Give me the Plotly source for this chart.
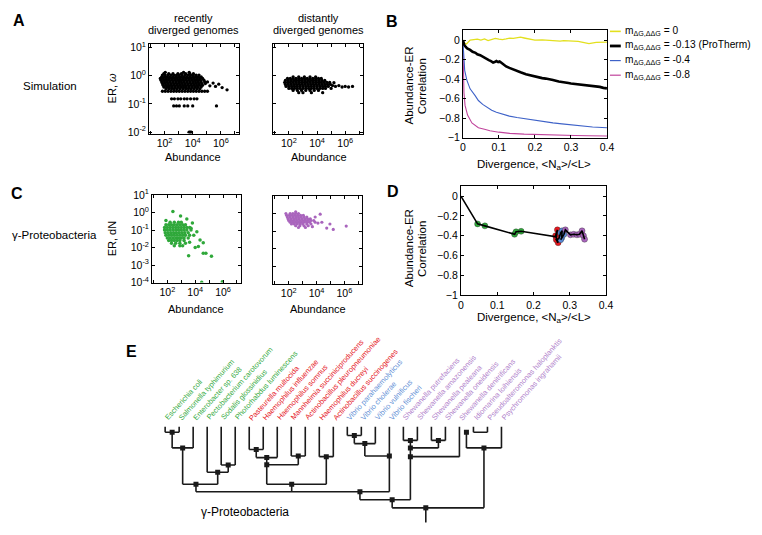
import numpy as np
import plotly.graph_objects as go

W, H = 762, 535
FONT = "Liberation Sans, Arial, sans-serif"

# ---------------- DATA ----------------
# Panel A (simulation), recently diverged: log10(ER) rows and the log10(abundance) of points on each row
a_recent_rowy = [0.12, 0.07, 0.02, -0.04, -0.10, -0.16, -0.22, -0.28, -0.34, -0.40, -0.46, -0.55, -0.82, -1.07]
a_recent_rowx = [
    [2.05, 3.35, 3.75],
    [1.95, 2.3, 2.6, 2.95, 3.2, 3.5, 3.8, 4.05],
    [1.85, 2.05, 2.25, 2.45, 2.65, 2.85, 3.05, 3.25, 3.45, 3.65, 3.85, 4.05, 4.25, 4.45],
    [1.8, 2.0, 2.2, 2.4, 2.6, 2.8, 3.0, 3.2, 3.4, 3.6, 3.8, 4.0, 4.2, 4.4, 4.6],
    [1.7, 1.9, 2.1, 2.3, 2.5, 2.7, 2.9, 3.1, 3.3, 3.5, 3.7, 3.9, 4.1, 4.3, 4.5, 4.7],
    [1.75, 1.95, 2.15, 2.35, 2.55, 2.75, 2.95, 3.15, 3.35, 3.55, 3.75, 3.95, 4.15, 4.35, 4.55, 4.8],
    [1.8, 2.0, 2.2, 2.4, 2.6, 2.8, 3.0, 3.2, 3.4, 3.6, 3.8, 4.0, 4.2, 4.4, 4.6, 4.85, 5.05],
    [1.85, 2.05, 2.25, 2.45, 2.65, 2.85, 3.05, 3.25, 3.45, 3.65, 3.85, 4.05, 4.25, 4.45, 4.65, 4.9],
    [1.9, 2.1, 2.3, 2.5, 2.7, 2.9, 3.1, 3.3, 3.5, 3.7, 3.9, 4.1, 4.3, 4.5, 4.7],
    [1.95, 2.15, 2.35, 2.55, 2.75, 2.95, 3.15, 3.35, 3.55, 3.75, 3.95, 4.15, 4.35, 4.6],
    [2.1, 2.3, 2.5, 2.7, 2.9, 3.1, 3.3, 3.5, 3.7, 3.9, 4.1, 4.3, 4.5],
    [1.85, 2.05, 2.25, 2.45, 2.65, 2.85, 3.05, 3.25, 3.45, 3.65, 3.85, 4.05, 4.25, 4.45, 4.65, 4.85, 5.05],
    [2.5, 2.7, 2.95, 3.15, 3.4, 3.6, 3.85, 4.1, 4.3],
    [2.65, 2.85, 3.05, 3.4, 3.65, 4.0, 5.69],
]
a_recent_extra_x = [5.22, 5.45, 5.62, 5.85, 6.09, 6.44, 3.74, 3.82, 3.9]
a_recent_extra_y = [-0.36, -0.26, -0.38, -0.30, -0.42, -0.50, -2.0, -2.0, -2.0]

# Panel A, distantly diverged
a_distant_rowy = [-0.04, -0.10, -0.17, -0.24, -0.31, -0.38, -0.45, -0.52, -0.60]
a_distant_rowx = [
    [2.3, 2.7, 3.1, 3.5, 3.9],
    [1.9, 2.1, 2.3, 2.5, 2.7, 2.9, 3.1, 3.3, 3.5, 3.7, 3.9, 4.1, 4.3],
    [1.75, 1.95, 2.15, 2.35, 2.55, 2.75, 2.95, 3.15, 3.35, 3.55, 3.75, 3.95, 4.15, 4.35, 4.55],
    [1.7, 1.9, 2.1, 2.3, 2.5, 2.7, 2.9, 3.1, 3.3, 3.5, 3.7, 3.9, 4.1, 4.3, 4.5, 4.7, 4.9],
    [1.75, 1.95, 2.15, 2.35, 2.55, 2.75, 2.95, 3.15, 3.35, 3.55, 3.75, 3.95, 4.15, 4.35, 4.55, 4.75, 4.95],
    [1.8, 2.0, 2.2, 2.4, 2.6, 2.8, 3.0, 3.2, 3.4, 3.6, 3.8, 4.0, 4.2, 4.4, 4.6, 4.8],
    [2.0, 2.2, 2.4, 2.6, 2.8, 3.0, 3.2, 3.4, 3.6, 3.8, 4.0, 4.2, 4.4, 4.6],
    [2.3, 2.6, 2.9, 3.2, 3.5, 3.8, 4.1],
    [2.7, 3.0, 3.6, 4.4],
]
a_distant_extra_x = [5.1, 5.31, 5.55, 5.78, 6.0, 6.24, 6.52, 5.2, 5.0]
a_distant_extra_y = [-0.35, -0.38, -0.35, -0.40, -0.38, -0.40, -0.38, -0.25, -0.45]

# Panel B: abundance-ER correlation vs divergence
b_yellow_x = [0, 0.004, 0.01, 0.02, 0.03, 0.04, 0.05, 0.06, 0.07, 0.08, 0.09, 0.1, 0.11, 0.12, 0.13, 0.14, 0.15,
              0.16, 0.17, 0.18, 0.19, 0.2, 0.22, 0.24, 0.26, 0.27, 0.28, 0.3, 0.32, 0.33, 0.35, 0.37, 0.38, 0.4]
b_yellow_y = [0, -0.03, -0.04, 0.0, 0.005, 0.01, 0.0, 0.012, -0.005, 0.008, 0.018, 0.01, 0.005, 0.012, 0.02, 0.018, 0.025,
              0.03, 0.022, 0.015, 0.01, 0.0, 0.002, -0.002, -0.008, -0.01, -0.004, -0.005, -0.012, -0.02, -0.035, -0.022, -0.02, -0.02]
b_black_x = [0, 0.002, 0.004, 0.008, 0.012, 0.02, 0.027, 0.035, 0.04, 0.048, 0.055, 0.06, 0.066, 0.072, 0.078, 0.084, 0.088,
             0.093, 0.098, 0.102, 0.106, 0.111, 0.12, 0.129, 0.138, 0.148, 0.16, 0.175, 0.19, 0.202, 0.21, 0.22, 0.23, 0.239,
             0.25, 0.266, 0.28, 0.293, 0.3, 0.312, 0.325, 0.339, 0.35, 0.366, 0.38, 0.39, 0.4]
b_black_y = [0, -0.03, -0.05, -0.07, -0.085, -0.1, -0.12, -0.13, -0.145, -0.155, -0.17, -0.18, -0.2, -0.205, -0.215, -0.23, -0.225,
             -0.215, -0.225, -0.22, -0.23, -0.245, -0.27, -0.285, -0.3, -0.315, -0.33, -0.35, -0.365, -0.375, -0.38, -0.39, -0.395, -0.405,
             -0.41, -0.425, -0.43, -0.44, -0.445, -0.45, -0.455, -0.465, -0.47, -0.475, -0.48, -0.49, -0.495]
b_blue_x = [0, 0.001, 0.002, 0.005, 0.011, 0.02, 0.034, 0.043, 0.055, 0.066, 0.08, 0.093, 0.11, 0.129, 0.15, 0.175, 0.2, 0.22,
            0.25, 0.275, 0.3, 0.33, 0.36, 0.4]
b_blue_y = [0, -0.1, -0.175, -0.31, -0.41, -0.5, -0.57, -0.62, -0.66, -0.69, -0.72, -0.74, -0.76, -0.78, -0.795, -0.81, -0.825, -0.835,
            -0.85, -0.86, -0.87, -0.885, -0.892, -0.9]
b_mag_x = [0, 0.0005, 0.001, 0.003, 0.006, 0.013, 0.025, 0.043, 0.06, 0.075, 0.1, 0.13, 0.17, 0.22, 0.27, 0.31, 0.35, 0.4]
b_mag_y = [0, -0.2, -0.34, -0.54, -0.67, -0.77, -0.85, -0.9, -0.915, -0.93, -0.945, -0.957, -0.965, -0.972, -0.977, -0.98, -0.982, -0.985]
b_labels = ["m<sub>ΔG,ΔΔG</sub> = 0", "m<sub>ΔG,ΔΔG</sub> = -0.13 (ProTherm)",
            "m<sub>ΔG,ΔΔG</sub> = -0.4", "m<sub>ΔG,ΔΔG</sub> = -0.8"]

# Panel C (gamma-proteobacteria): green (recent) cloud rows
c_green_rowy = [-0.55, -0.7, -0.85, -1.0, -1.15, -1.3, -1.45, -1.6, -1.75, -1.9]
c_green_rowx = [
    [2.2, 2.5, 2.8, 3.0],
    [1.9, 2.1, 2.3, 2.5, 2.7, 2.9, 3.1, 3.3],
    [1.8, 2.0, 2.2, 2.4, 2.6, 2.8, 3.0, 3.2, 3.4, 3.6],
    [1.8, 2.0, 2.2, 2.4, 2.6, 2.8, 3.0, 3.2, 3.4, 3.7],
    [1.85, 2.05, 2.25, 2.45, 2.65, 2.85, 3.05, 3.25, 3.5],
    [1.9, 2.1, 2.3, 2.5, 2.7, 2.9, 3.1, 3.3, 3.6],
    [2.0, 2.2, 2.4, 2.6, 2.8, 3.0, 3.2, 3.5],
    [2.1, 2.3, 2.5, 2.7, 2.9, 3.2],
    [2.3, 2.6, 2.9, 3.3],
    [2.5, 2.9],
]
c_green_extra_x = [2.4, 2.95, 3.4, 3.8, 3.7, 4.12, 3.9, 4.35, 4.58, 4.23, 3.53, 4.58, 4.77, 5.17, 4.47, 5.95, 1.9, 3.6, 4.0, 3.1]
c_green_extra_y = [0.06, -0.2, -0.37, -0.6, -0.9, -1.1, -1.3, -1.57, -1.72, -1.94, -2.46, -2.33, -2.33, -2.5, -3.98, -3.95, -0.45, -1.7, -2.0, -1.9]

# Panel C: purple (distant) cloud rows
c_purple_rowy = [0.1, 0.0, -0.1, -0.2, -0.3, -0.4, -0.5, -0.6, -0.7, -0.8]
c_purple_rowx = [
    [2.5],
    [1.8, 2.1, 2.3, 2.5, 2.7],
    [1.85, 2.05, 2.25, 2.45, 2.65, 2.85, 3.05],
    [1.9, 2.1, 2.3, 2.5, 2.7, 2.9, 3.1, 3.3],
    [1.95, 2.15, 2.35, 2.55, 2.75, 2.95, 3.15, 3.35, 3.55],
    [2.0, 2.2, 2.4, 2.6, 2.8, 3.0, 3.2, 3.4, 3.6, 3.8],
    [2.1, 2.3, 2.5, 2.7, 2.9, 3.1, 3.3, 3.5, 3.9],
    [2.2, 2.4, 2.6, 2.8, 3.0, 3.3, 3.6],
    [2.5, 2.8, 3.1, 3.4],
    [2.7, 3.2],
]
c_purple_extra_x = [4.26, 4.38, 4.73, 4.96, 5.2, 6.13, 3.9, 4.1, 3.7]
c_purple_extra_y = [-0.04, -0.5, -0.83, -0.6, -0.91, -0.72, -0.2, -0.55, -0.75]

# Panel D: correlation along the tree
d_x = [0, 0.046, 0.066, 0.148, 0.152, 0.166, 0.263, 0.266, 0.261, 0.268, 0.263, 0.27,
       0.275, 0.279, 0.278, 0.275, 0.284, 0.288, 0.302, 0.311, 0.32, 0.327, 0.334, 0.338, 0.341]
d_y = [0, -0.28, -0.30, -0.385, -0.36, -0.355, -0.41, -0.34, -0.40, -0.47, -0.44, -0.43,
       -0.37, -0.35, -0.42, -0.44, -0.385, -0.34, -0.39, -0.385, -0.39, -0.385, -0.35, -0.40, -0.435]
d_group = ['', 'g', 'g', 'g', 'g', 'g', 'r', 'r', 'r', 'r', 'r', 'r',
           'b', 'b', 'b', 'b', 'b', 'p', 'p', 'p', 'p', 'p', 'p', 'p', 'p']

# Panel E: tree
leaf_names = ["Escherichia coli", "Salmonella typhimurium", "Enterobacter sp. 638", "Pectobacterium carotovorum",
              "Sodalis glossinidius", "Photorhabdus luminescens",
              "Pasteurella multocida", "Haemophilus influenzae", "Haemophilus somnus", "Mannheimia succiniciproducens",
              "Actinobacillus pleuropneumoniae", "Haemophilus ducreyi", "Actinobacillus succinogenes",
              "Vibrio parahaemolyticus", "Vibrio cholerae", "Vibrio vulnificus", "Vibrio fischeri",
              "Shewanella putrefaciens", "Shewanella amazonensis", "Shewanella pealeana", "Shewanella oneidensis",
              "Shewanella denitrificans", "Idiomarina loihiensis", "Pseudoalteromonas haloplanktis", "Psychromonas ingrahamii"]
leaf_group = ['g'] * 6 + ['r'] * 7 + ['b'] * 4 + ['p'] * 8
node_names = ['N1', 'N2', 'N3', 'N4', 'N5', 'N6', 'N7', 'N8', 'N9', 'N10', 'N11', 'B1', 'B2', 'B3',
              'S1', 'S2', 'S3', 'S4', 'P1', 'P2', 'GRB', 'GRBS', 'ROOT']
node_children = [[0, 1], ['N1', 2], [4, 5], [3, 'N3'], ['N2', 'N4'], [6, 7], ['N6', 8], [9, 10], [11, 12],
                 ['N7', 'N8'], ['N10', 'N9'], [13, 14], ['B1', 15], ['B2', 16],
                 [17, 18], [19, 20], ['S1', 'S2'], ['S3', 21], [22, 23], ['P1', 24],
                 ['N5', 'N11', 'B3'], ['GRB', 'S4'], ['GRBS', 'P2']]
node_pos = [0.5, 1.25, 4.5, 3.75, 2.2, 6.5, 7.25, 9.5, 11.5, 7.25, 9.03, 13.5, 14.25, 16,
            17.5, 19.5, 17.5, 17.5, 21.5, 22.75, 13.9, 16.2, 18.6]
node_depth = [5.7, 21.7, 39.3, 46.7, 59, 23.3, 31.7, 30, 30.7, 39, 59, 9, 17.3, 30,
              14, 14, 21.7, 30.7, 5.7, 21.7, 66.7, 75, 83.3]
root_stem_depth = 98.3

COL = {'g': '#2fa83a', 'r': '#e8191f', 'b': '#5a8ad4', 'p': '#a965bd'}
LEAF_COL = {'g': '#34aa3e', 'r': '#e5141c', 'b': '#5f90d6', 'p': '#b07fcb'}

# ---------------- helpers ----------------
def px(x):
    return x / W

def py(y):
    return 1 - y / H

def dx(a, b):
    return [a / W, b / W]

def dy(top, bot):
    return [1 - bot / H, 1 - top / H]

def rows_to_xy(rowy, rowx):
    xs, ys = [], []
    for yv, xl in zip(rowy, rowx):
        for xv in xl:
            xs.append(xv)
            ys.append(yv)
    return xs, ys

def frame(**kw):
    d = dict(showline=True, linecolor='black', linewidth=1, mirror='ticks', ticks='inside', ticklen=3,
             tickcolor='black', tickwidth=1, showgrid=False, zeroline=False,
             tickfont=dict(size=10.5, color='black', family=FONT))
    d.update(kw)
    return d

sup = lambda n: "10<sup>%d</sup>" % n

fig = go.Figure()

# ---- Panel A ----
ax_, ay_ = rows_to_xy(a_recent_rowy, a_recent_rowx)
ax_ += a_recent_extra_x
ay_ += a_recent_extra_y
fig.add_trace(go.Scatter(x=10 ** np.array(ax_), y=10 ** np.array(ay_), mode='markers',
                         marker=dict(color='black', size=3.3, line=dict(width=0)), xaxis='x', yaxis='y'))
bx_, by_ = rows_to_xy(a_distant_rowy, a_distant_rowx)
bx_ += a_distant_extra_x
by_ += a_distant_extra_y
fig.add_trace(go.Scatter(x=10 ** np.array(bx_), y=10 ** np.array(by_), mode='markers',
                         marker=dict(color='black', size=3.3, line=dict(width=0)), xaxis='x2', yaxis='y2'))

# ---- Panel B ----
fig.add_trace(go.Scatter(x=b_yellow_x, y=b_yellow_y, mode='lines', line=dict(color='#e3e01e', width=1.3),
                         xaxis='x3', yaxis='y3'))
fig.add_trace(go.Scatter(x=b_mag_x, y=b_mag_y, mode='lines', line=dict(color='#c0449c', width=1.1),
                         xaxis='x3', yaxis='y3'))
fig.add_trace(go.Scatter(x=b_blue_x, y=b_blue_y, mode='lines', line=dict(color='#3e62c8', width=1.1),
                         xaxis='x3', yaxis='y3'))
fig.add_trace(go.Scatter(x=b_black_x, y=b_black_y, mode='lines', line=dict(color='black', width=2.6),
                         xaxis='x3', yaxis='y3'))

# ---- Panel C ----
gx, gy = rows_to_xy(c_green_rowy, c_green_rowx)
gx += c_green_extra_x
gy += c_green_extra_y
fig.add_trace(go.Scatter(x=10 ** np.array(gx), y=10 ** np.array(gy), mode='markers',
                         marker=dict(color=COL['g'], size=3.5, line=dict(width=0)), xaxis='x4', yaxis='y4'))
qx, qy = rows_to_xy(c_purple_rowy, c_purple_rowx)
qx += c_purple_extra_x
qy += c_purple_extra_y
fig.add_trace(go.Scatter(x=10 ** np.array(qx), y=10 ** np.array(qy), mode='markers',
                         marker=dict(color=COL['p'], size=3.2, line=dict(width=0)), xaxis='x5', yaxis='y5'))

# ---- Panel D ----
mask = [g != '' for g in d_group]
fig.add_trace(go.Scatter(x=[x for x, m in zip(d_x, mask) if m], y=[y for y, m in zip(d_y, mask) if m],
                         mode='markers',
                         marker=dict(color=[COL[g] for g in d_group if g], size=6,
                                     line=dict(color='rgba(40,40,40,0.5)', width=0.7)),
                         xaxis='x6', yaxis='y6'))
fig.add_trace(go.Scatter(x=d_x, y=d_y, mode='lines', line=dict(color='black', width=1.6),
                         xaxis='x6', yaxis='y6'))

# ---- Panel E: tree ----
pos = {i: float(i) for i in range(len(leaf_names))}
dep = {i: 0.0 for i in range(len(leaf_names))}
for n, xv, dv in zip(node_names, node_pos, node_depth):
    pos[n] = xv
    dep[n] = dv
lx, ly = [], []
for n, ch in zip(node_names, node_children):
    cx = [pos[c] for c in ch]
    lx += [min(cx), max(cx), None]
    ly += [dep[n], dep[n], None]
    for c in ch:
        lx += [pos[c], pos[c], None]
        ly += [dep[c], dep[n], None]
lx += [pos['ROOT'], pos['ROOT'], None]
ly += [dep['ROOT'], root_stem_depth, None]
fig.add_trace(go.Scatter(x=lx, y=ly, mode='lines', line=dict(color='#1a1a1a', width=1.6),
                         xaxis='x7', yaxis='y7'))
fig.add_trace(go.Scatter(x=node_pos, y=node_depth, mode='markers',
                         marker=dict(symbol='square', color='#1a1a1a', size=5), xaxis='x7', yaxis='y7'))

# ---------------- axes ----------------
xt_vals = [10 ** k for k in range(1, 8)]
xt_text = ['', sup(2), '', sup(4), '', sup(6), '']
logx = dict(type='log', range=[0.9, 7.28], tickvals=xt_vals, ticktext=xt_text)
ya_vals = [10 ** k for k in range(-2, 2)]
ya_text = [sup(k) for k in range(-2, 2)]
yc_vals = [10 ** k for k in range(-4, 2)]
yc_text = [sup(k) for k in range(-4, 2)]
lin_x = dict(range=[0, 0.4], tickvals=[0, 0.1, 0.2, 0.3, 0.4], ticktext=['0', '0.1', '0.2', '0.3', '0.4'])
lin_y = dict(range=[-1, 0.1], tickvals=[0, -0.2, -0.4, -0.6, -0.8, -1],
             ticktext=['0', '−0.2', '−0.4', '−0.6', '−0.8', '−1'])

layout = dict(
    width=W, height=H, margin=dict(l=0, r=0, t=0, b=0), paper_bgcolor='white', plot_bgcolor='white',
    showlegend=False, font=dict(family=FONT, color='black'), hovermode=False,
    xaxis=frame(domain=dx(148, 239), anchor='y', **logx),
    yaxis=frame(domain=dy(37, 129), anchor='x', type='log', range=[-2.05, 1.12], tickvals=ya_vals, ticktext=ya_text),
    xaxis2=frame(domain=dx(274, 365), anchor='y2', **logx),
    yaxis2=frame(domain=dy(37, 129), anchor='x2', type='log', range=[-2.05, 1.12], tickvals=ya_vals,
                 ticktext=ya_text, showticklabels=False),
    xaxis3=frame(domain=dx(466, 612), anchor='y3', **lin_x),
    yaxis3=frame(domain=dy(23, 133), anchor='x3', **lin_y),
    xaxis4=frame(domain=dx(151, 241), anchor='y4', **logx),
    yaxis4=frame(domain=dy(192, 282), anchor='x4', type='log', range=[-4, 1], tickvals=yc_vals, ticktext=yc_text),
    xaxis5=frame(domain=dx(274, 364), anchor='y5', **logx),
    yaxis5=frame(domain=dy(193, 283), anchor='x5', type='log', range=[-4, 1], tickvals=yc_vals,
                 ticktext=yc_text, showticklabels=False),
    xaxis6=frame(domain=dx(464, 611), anchor='y6', **lin_x),
    yaxis6=frame(domain=dy(183, 295), anchor='x6', **lin_y),
    xaxis7=dict(domain=dx(164.3 - 2 * 14.2, 164.3 + 30 * 14.2), range=[-2, 30], visible=False, anchor='y7'),
    yaxis7=dict(domain=dy(420, 535), range=[105, -10], visible=False, anchor='x7'),
)
fig.update_layout(**layout)

# ---------------- text ----------------
ann = []

def T(x, y, text, size=11, xa='center', ya='middle', angle=0, color='black', bold=False):
    if bold:
        text = '<b>' + text + '</b>'
    ann.append(dict(x=px(x), y=py(y), xref='paper', yref='paper', text=text, showarrow=False,
                    xanchor=xa, yanchor=ya, textangle=angle, font=dict(size=size, color=color, family=FONT)))

T(16, 13, 'A', 16, bold=True)
T(394, 14, 'B', 16, bold=True)
T(14, 190, 'C', 16, bold=True)
T(395, 188, 'D', 16, bold=True)
T(130, 353, 'E', 16, bold=True)

T(193, 10, 'recently', 11)
T(193, 23, 'diverged genomes', 11)
T(320, 10, 'distantly', 11)
T(320, 23, 'diverged genomes', 11)
T(48, 80, 'Simulation', 11.5)
T(52, 233, 'γ-Proteobacteria', 11.5)
T(110, 83, 'ER, <i>ω</i>', 11, angle=-90)
T(110, 237, 'ER, dN', 11, angle=-90)
T(193, 153, 'Abundance', 11)
T(320, 153, 'Abundance', 11)
T(196, 309, 'Abundance', 11)
T(319, 309, 'Abundance', 11)
T(411, 80, 'Abundance-ER', 11.5, angle=-90)
T(424, 80, 'Correlation', 11.5, angle=-90)
T(411, 247, 'Abundance-ER', 11.5, angle=-90)
T(424, 247, 'Correlation', 11.5, angle=-90)
T(538, 161, 'Divergence, &lt;N<sub>a</sub>&gt;/&lt;L&gt;', 11.5)
T(538, 318, 'Divergence, &lt;N<sub>a</sub>&gt;/&lt;L&gt;', 11.5)
T(245, 518, 'γ-Proteobacteria', 12)

# legend of panel B
leg_cols = ['#e3e01e', 'black', '#3e62c8', '#c0449c']
leg_w = [1.6, 2.8, 1.2, 1.2]
shapes = []
for i, (lab, c, w) in enumerate(zip(b_labels, leg_cols, leg_w)):
    yy = 24 + 15 * i
    shapes.append(dict(type='line', xref='paper', yref='paper', x0=px(615), x1=px(626), y0=py(yy), y1=py(yy),
                       line=dict(color=c, width=w)))
    T(628, yy, lab, 10.2, xa='left')

# leaf labels
for i, (nm, g) in enumerate(zip(leaf_names, leaf_group)):
    ann.append(dict(x=i, y=0, xref='x7', yref='y7', text=nm, showarrow=False, xanchor='left', yanchor='bottom',
                    textangle=-48, xshift=-5, yshift=2, font=dict(size=7.4, color=LEAF_COL[g], family=FONT)))

fig.update_layout(annotations=ann, shapes=shapes)
fig.write_html("out.html", config={'displayModeBar': False, 'staticPlot': True},
               post_script="document.body.style.margin='0';document.body.style.padding='0';")
